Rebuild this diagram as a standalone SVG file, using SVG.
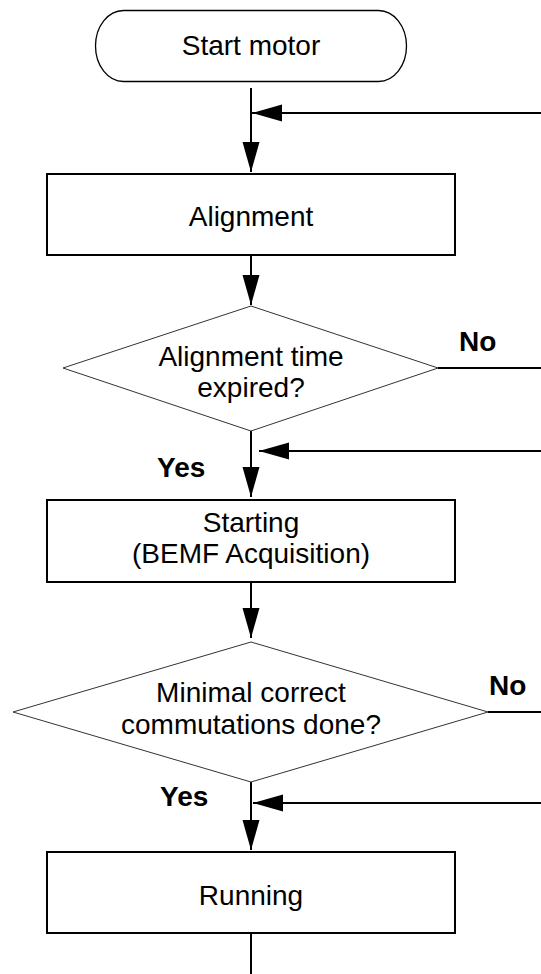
<svg xmlns="http://www.w3.org/2000/svg" width="541" height="974" viewBox="0 0 541 974">
  <style>
    .bg { fill: #ffffff; }
    .terminal { fill: #ffffff; stroke: #000000; stroke-width: 1.3; }
    .process { fill: #ffffff; stroke: #000000; stroke-width: 2; }
    .decision { fill: #ffffff; stroke: #333333; stroke-width: 1; }
    .label { font-family: "Liberation Sans", Arial, sans-serif; font-size: 28px; fill: #000000; text-anchor: middle; }
    .branch { font-family: "Liberation Sans", Arial, sans-serif; font-size: 28px; font-weight: bold; fill: #000000; }
    .flow { fill: none; stroke: #000000; stroke-width: 2; }
    .flow-arrow { fill: none; stroke: #000000; stroke-width: 2; marker-end: url(#arrow); }
  </style>
  <defs>
    <marker id="arrow" markerUnits="userSpaceOnUse" markerWidth="30" markerHeight="18" refX="30" refY="8.5" orient="auto">
      <path d="M0,0 L30,8.5 L0,17 Z" fill="#000000"/>
    </marker>
  </defs>

  <rect class="bg" x="0" y="0" width="541" height="974"/>

  <g id="connectors">
    <!-- main trunk -->
    <line class="flow-arrow" x1="251" y1="88" x2="251" y2="172"/>
    <line class="flow-arrow" x1="251" y1="255" x2="251" y2="305"/>
    <line class="flow-arrow" x1="251" y1="431" x2="251" y2="497"/>
    <line class="flow-arrow" x1="251" y1="582" x2="251" y2="638"/>
    <line class="flow-arrow" x1="251" y1="782" x2="251" y2="850"/>
    <line class="flow" x1="251" y1="933" x2="251" y2="974"/>
    <!-- re-entry arrows from the right -->
    <line class="flow-arrow" x1="541" y1="113" x2="252" y2="113"/>
    <line class="flow-arrow" x1="541" y1="451" x2="259" y2="451"/>
    <line class="flow-arrow" x1="541" y1="803" x2="253" y2="803"/>
    <!-- "No" exits -->
    <line class="flow" x1="438" y1="368" x2="541" y2="368"/>
    <line class="flow" x1="488" y1="712" x2="541" y2="712"/>
  </g>

  <g id="start-motor">
    <rect class="terminal" x="95.5" y="10.5" width="311" height="71" rx="28" ry="35.5"/>
    <text class="label" x="251" y="55">Start motor</text>
  </g>

  <g id="alignment">
    <rect class="process" x="47" y="174" width="408" height="81"/>
    <text class="label" x="251" y="226">Alignment</text>
  </g>

  <g id="alignment-expired">
    <polygon class="decision" points="251,306 438,368 251,431 63,368"/>
    <text class="label" x="251" y="366">Alignment time</text>
    <text class="label" x="251" y="397">expired?</text>
    <text class="branch" x="459" y="351">No</text>
    <text class="branch" x="157" y="477">Yes</text>
  </g>

  <g id="starting">
    <rect class="process" x="47" y="500" width="408" height="82"/>
    <text class="label" x="251" y="532">Starting</text>
    <text class="label" x="251" y="563">(BEMF Acquisition)</text>
  </g>

  <g id="commutations-done">
    <polygon class="decision" points="251,642 488,712 251,782 13,712"/>
    <text class="label" x="251" y="702">Minimal correct</text>
    <text class="label" x="251" y="734">commutations done?</text>
    <text class="branch" x="489" y="695">No</text>
    <text class="branch" x="160" y="806">Yes</text>
  </g>

  <g id="running">
    <rect class="process" x="47" y="852" width="408" height="81"/>
    <text class="label" x="251" y="905">Running</text>
  </g>
</svg>
